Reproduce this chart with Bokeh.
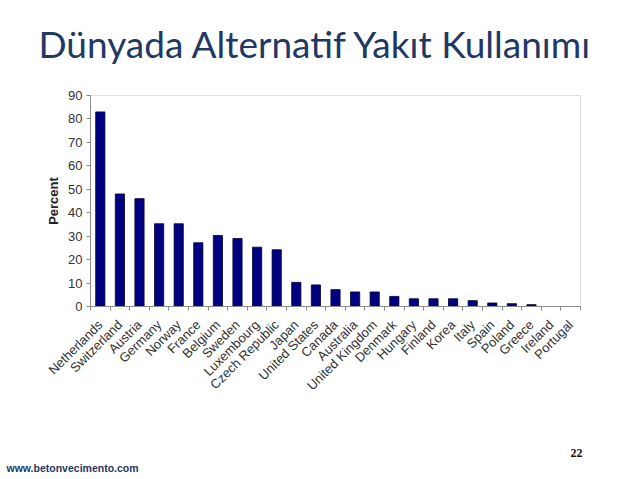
from bokeh.plotting import figure
from bokeh.models import Label, FixedTicker, Range1d, ColumnDataSource, BoxAnnotation
from bokeh.embed import file_html
from bokeh.resources import INLINE
from math import pi

countries = ["Netherlands", "Switzerland", "Austria", "Germany", "Norway", "France",
             "Belgium", "Sweden", "Luxembourg", "Czech Republic", "Japan", "United States",
             "Canada", "Australia", "United Kingdom", "Denmark", "Hungary", "Finland",
             "Korea", "Italy", "Spain", "Poland", "Greece", "Ireland", "Portugal"]
percent = [83, 48, 46, 35.3, 35.3, 27.2, 30.3, 29, 25.3, 24.2, 10.3, 9.2, 7.2, 6.2, 6.2,
           4.3, 3.3, 3.3, 3.3, 2.5, 1.5, 1.2, 0.8, 0, 0]
y_ticks = [0, 10, 20, 30, 40, 50, 60, 70, 80, 90]
y_max = 90

# page layout (pixels)
W, H = 622, 475
PX_L, PX_R, PX_T, PX_B = 90, 580, 95, 306

n = len(countries)
xpos = [i + 1 for i in range(n)]
x0, x1 = 0.5, n + 0.5
ux = (PX_R - PX_L) / (x1 - x0)
uy = (PX_B - PX_T) / y_max
xr = Range1d(x0 - PX_L / ux, x1 + (W - PX_R) / ux)
yr = Range1d(-(H - PX_B) / uy, y_max + PX_T / uy)

src = ColumnDataSource(dict(x=xpos, top=percent, name=countries))

p = figure(width=W, height=H, output_backend="svg", toolbar_location=None,
           x_range=xr, y_range=yr, min_border=0)
p.outline_line_color = None
p.xgrid.visible = False
p.ygrid.visible = False
p.background_fill_color = "white"
p.border_fill_color = "white"

p.add_layout(BoxAnnotation(left=x0, right=x1, bottom=0, top=y_max, fill_alpha=0,
                           line_color="#999999", line_width=1))

p.vbar(x="x", top="top", width=0.47, source=src, fill_color="#000080",
       line_color="#000033", line_width=0.8)

# x axis
p.xaxis.fixed_location = 0
p.xaxis.bounds = (x0, x1)
p.xaxis.ticker = FixedTicker(ticks=xpos, minor_ticks=[i + 0.5 for i in range(n + 1)])
p.xaxis.major_label_overrides = {x: c for x, c in zip(xpos, countries)}
p.xaxis.major_label_orientation = pi / 4
p.xaxis.major_tick_out = 0
p.xaxis.major_tick_in = 0
p.xaxis.minor_tick_out = 4
p.xaxis.minor_tick_in = 0
p.xaxis.axis_line_color = "#888888"
p.xaxis.minor_tick_line_color = "#888888"
p.xaxis.major_label_text_font = "Liberation Sans"
p.xaxis.major_label_text_font_size = "13px"
p.xaxis.major_label_text_color = "#333333"
p.xaxis.major_label_standoff = 12

# y axis
p.yaxis.fixed_location = x0
p.yaxis.bounds = (0, y_max)
p.yaxis.ticker = FixedTicker(ticks=y_ticks)
p.yaxis.minor_tick_line_color = None
p.yaxis.major_tick_out = 4
p.yaxis.major_tick_in = 0
p.yaxis.axis_line_color = "#888888"
p.yaxis.major_tick_line_color = "#888888"
p.yaxis.major_label_text_font = "Liberation Sans"
p.yaxis.major_label_text_font_size = "13px"
p.yaxis.major_label_text_color = "#333333"
p.yaxis.major_label_standoff = 4
p.yaxis.axis_label = "Percent"
p.yaxis.axis_label_text_font = "Liberation Sans"
p.yaxis.axis_label_text_font_style = "bold"
p.yaxis.axis_label_text_font_size = "13px"
p.yaxis.axis_label_text_color = "#222222"
p.yaxis.axis_label_standoff = 4

p.add_layout(Label(x=38, y=H - 43, x_units="screen", y_units="screen",
                   text="Dünyada Alternatif Yakıt Kullanımı", text_font="Lato",
                   text_font_size="37px", text_color="#1F3864", text_align="left",
                   text_baseline="alphabetic"))

p.add_layout(Label(x=6, y=H - 467, x_units="screen", y_units="screen",
                   text="www.betonvecimento.com", text_font="Liberation Sans",
                   text_font_style="bold", text_font_size="10.5px", text_color="#1F3864",
                   text_align="left", text_baseline="alphabetic"))

p.add_layout(Label(x=582, y=H - 452, x_units="screen", y_units="screen",
                   text="22", text_font="Liberation Serif", text_font_style="bold",
                   text_font_size="12px", text_color="#111111", text_align="right",
                   text_baseline="alphabetic"))

open("out.html", "w").write(file_html(p, INLINE))
